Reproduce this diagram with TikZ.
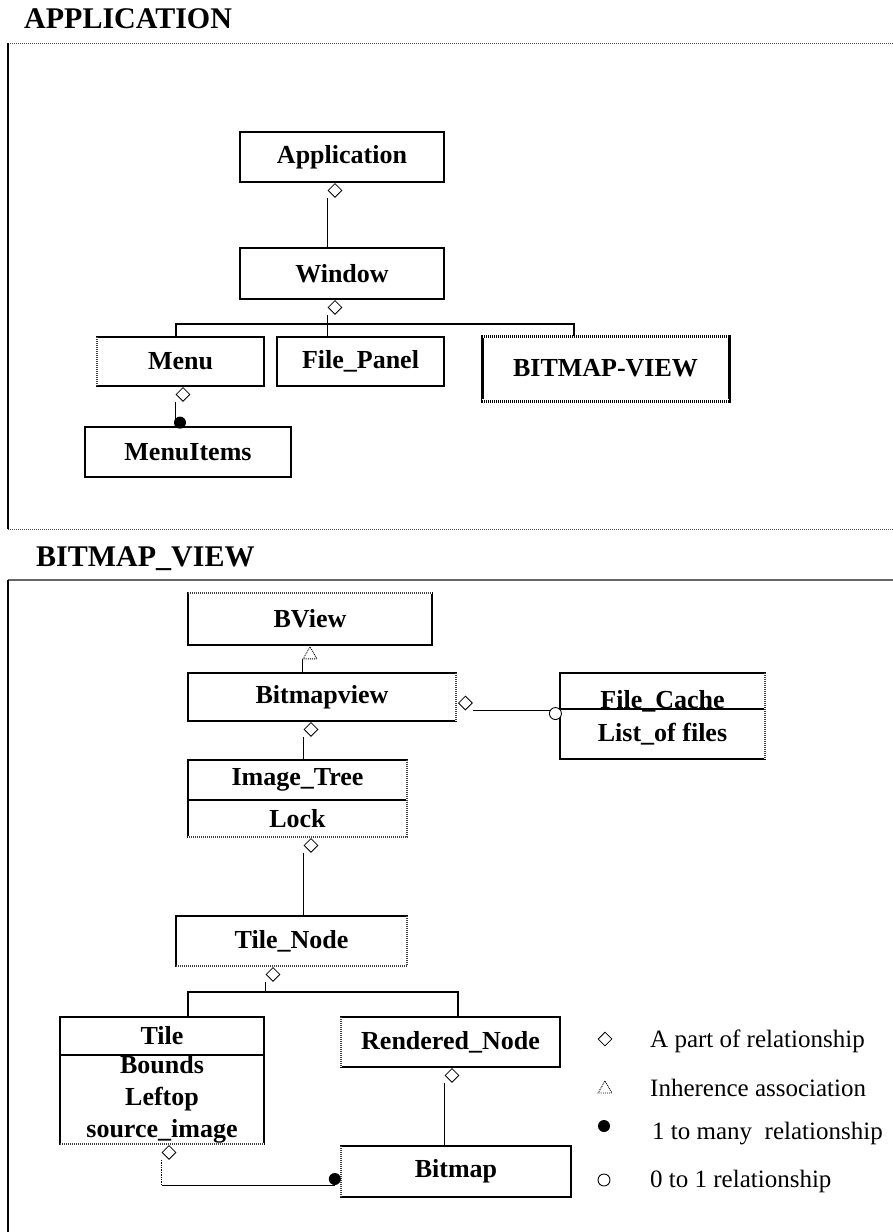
\documentclass[tikz,border=0pt]{standalone}
\usepackage{fontspec}
\setmainfont{Liberation Serif}
\usetikzlibrary{positioning,calc,shapes.geometric}

\tikzset{
  classbox/.style={
    draw,
    line width=1.6pt,
    inner sep=0pt,
    outer sep=0pt,
    align=center,
    font=\fontsize{26}{32}\selectfont\bfseries
  },
  partof/.style={
    diamond,
    draw,
    fill=white,
    line width=0.8pt,
    inner sep=0pt,
    minimum width=14pt,
    minimum height=14pt
  },
  inherit/.style={
    regular polygon,
    regular polygon sides=3,
    draw,
    densely dotted,
    line width=0.9pt,
    inner sep=0pt,
    minimum size=16pt
  },
  onemany/.style={circle, fill=black, inner sep=0pt, minimum size=12pt},
  zeroone/.style={circle, draw, fill=white, line width=0.9pt, inner sep=0pt, minimum size=12pt},
  link/.style={line width=1.4pt},
  dotside/.style={
    draw=white,
    line width=2.4pt,
    postaction={draw=black!75, line width=1.1pt, dash pattern=on 1pt off 1pt}
  },
  thickdots/.style={
    draw=white,
    line width=3.4pt,
    postaction={draw=black, line width=3pt, dash pattern=on 1.2pt off 0.8pt}
  },
  paneltitle/.style={anchor=base west, inner sep=0pt, font=\fontsize{30}{34}\selectfont\bfseries},
  legendtext/.style={anchor=west, inner sep=0pt, font=\fontsize{25}{30}\selectfont}
}

\begin{document}
\begin{tikzpicture}[x=1pt, y=-1pt]
\useasboundingbox (0,0) rectangle (893,1232);

% APPLICATION package
\node[paneltitle] (apptitle) at (24,28) {APPLICATION};
\draw[black!70, line width=1pt, dash pattern=on 1pt off 1pt] (8,43) -- (893,43);
\draw[line width=1.6pt] (8,43) -- (8,529);
\draw[black!70, line width=1pt, dash pattern=on 1pt off 1pt] (8,529) -- (893,529);

\node[classbox, minimum width=204pt, minimum height=50pt] (application) at (342,157) {Application};
\node[classbox, minimum width=204pt, minimum height=51pt] (window) at (342,273.5) {Window};
\node[classbox, minimum width=167pt, minimum height=49pt] (menu) at (180.5,361.5) {Menu};
\node[classbox, minimum width=167pt, minimum height=49pt] (filepanel) at (360.5,361.5) {File\_Panel};
\node[classbox, line width=3pt, minimum width=247pt, minimum height=65pt] (bmview) at (605.5,368.5) {BITMAP-VIEW};
\node[classbox, minimum width=206pt, minimum height=50pt] (menuitems) at (188,452) {MenuItems};

\draw[dotside] (menu.north west) -- (menu.south west);
\draw[thickdots] (bmview.north west) -- (bmview.north east);
\draw[thickdots] (bmview.south west) -- (bmview.south east);

% Application -> Window
\node[partof, below=1pt of application.south, xshift=-7pt] (d1) {};
\draw[link] (d1.south -| d1.west) -- (d1.west |- window.north);

% Window -> Menu, File_Panel, BITMAP-VIEW
\node[partof, below=1pt of window.south, xshift=-7pt] (d2) {};
\coordinate (wbar) at ([yshift=13pt]menu.north);
\draw[link] (d2.south -| d2.west) -- (d2.west |- filepanel.north);
\draw[link] ([xshift=-4.5pt]menu.north) -- ([xshift=-4.5pt]menu.north |- wbar) -| ([xshift=-31.5pt]bmview.north);

% Menu -> MenuItems
\node[partof, below=1pt of menu.south, xshift=2.5pt] (d3) {};
\draw[link] (d3.south -| d3.west) -- (d3.west |- menuitems.north);
\node[onemany, anchor=south west] (m1) at (d3.west |- menuitems.north) {};

% BITMAP_VIEW package
\node[paneltitle] (bvtitle) at (36,566) {BITMAP\_VIEW};
\draw[black!60, line width=1.6pt] (8,580) -- (893,580);
\draw[line width=1.6pt] (8,580) -- (8,1232);

\node[classbox, minimum width=244pt, minimum height=52pt] (bview) at (310,619) {BView};
\node[classbox, minimum width=268pt, minimum height=48pt] (bitmapview) at (322,697) {Bitmapview};
\node[classbox, minimum width=205pt, minimum height=36pt, text height=34pt, text depth=0pt] (filecache) at (662.5,691) {File\_Cache};
\node[classbox, minimum width=205pt, minimum height=50pt, below=0pt of filecache] (listfiles) {List\_of files};
\node[classbox, minimum width=219pt, minimum height=40pt] (imagetree) at (297.5,780) {Image\_Tree};
\node[classbox, minimum width=219pt, minimum height=37pt, below=0pt of imagetree] (lock) {Lock};
\node[classbox, minimum width=231pt, minimum height=50pt] (tilenode) at (291.5,941) {Tile\_Node};
\node[classbox, minimum width=204pt, minimum height=38pt] (tile) at (162,1036) {Tile};
\node[classbox, minimum width=204pt, minimum height=89pt, below=0pt of tile] (tileattr) {Bounds\\Leftop\\source\_image};
\node[classbox, minimum width=219pt, minimum height=50pt] (rnode) at (450.5,1042) {Rendered\_Node};
\node[classbox, minimum width=230pt, minimum height=51pt] (bitmap) at (456,1171.5) {Bitmap};

\draw[dotside] (bview.north west) -- (bview.north east);
\draw[dotside] (bitmapview.north east) -- (bitmapview.south east);
\draw[dotside] (filecache.north east) -- (listfiles.south east);
\draw[dotside] (imagetree.north east) -- (lock.south east) -- (lock.south west);
\draw[dotside] (tilenode.north east) -- (tilenode.south east) -- (tilenode.south west);
\draw[dotside] (tileattr.south west) -- (tileattr.south east);
\draw[dotside] (rnode.north west) -- (rnode.south west);
\draw[dotside] (bitmap.north west) -- (bitmap.south west);

% Bitmapview -> BView
\node[inherit, below=1pt of bview.south] (t1) {};
\draw[link] (t1.corner 2) -- (t1.corner 2 |- bitmapview.north);

% Bitmapview -> Image_Tree
\node[partof, below=1pt of bitmapview.south, xshift=-11pt] (d5) {};
\draw[link] (d5.south -| d5.west) -- (d5.west |- imagetree.north);

% Bitmapview -> File_Cache
\node[partof, right=2pt of bitmapview.east, yshift=-6pt] (d6) {};
\draw[link] (d6.south -| d6.east) -- (d6.south -| filecache.west);
\node[zeroone, anchor=north east] (z1) at (filecache.south west) {};

% Image_Tree -> Tile_Node
\node[partof, below=1pt of lock.south, xshift=13.5pt] (d7) {};
\draw[link] (d7.south -| d7.west) -- (d7.west |- tilenode.north);

% Tile_Node -> Tile, Rendered_Node
\node[partof, below=1pt of tilenode.south, xshift=-18.5pt] (d8) {};
\coordinate (tbar) at ([yshift=25pt]tile.north);
\draw[link] (d8.south -| d8.west) -- (d8.west |- tbar);
\draw[link] ([xshift=26pt]tile.north) -- ([xshift=26pt]tile.north |- tbar) -| ([xshift=7.5pt]rnode.north);

% Rendered_Node -> Bitmap
\node[partof, below=1pt of rnode.south, xshift=1.5pt] (d9) {};
\draw[link] (d9.south -| d9.west) -- (d9.west |- bitmap.north);

% Tile -> Bitmap
\node[partof, below=1pt of tileattr.south, xshift=7pt] (d10) {};
\node[onemany, anchor=east] (m2) at ([yshift=-7.5pt]bitmap.west) {};
\draw[link, densely dotted] (d10.south -| d10.west) -- (d10.west |- m2.south);
\draw[link] (d10.west |- m2.south) -- (m2.south);

% legend
\node[partof] (lg1) at (605,1039) {};
\node[legendtext] (lt1) at (650,1041) {A part of relationship};
\node[inherit] (lg2) at (605,1089) {};
\node[legendtext] (lt2) at (650,1088) {Inherence association};
\node[onemany] (lg3) at (604,1126) {};
\node[legendtext] (lt3) at (652,1134) {1 to many\ \ relationship};
\node[zeroone] (lg4) at (604,1180) {};
\node[legendtext] (lt4) at (650,1181) {0 to 1 relationship};
\end{tikzpicture}
\end{document}
